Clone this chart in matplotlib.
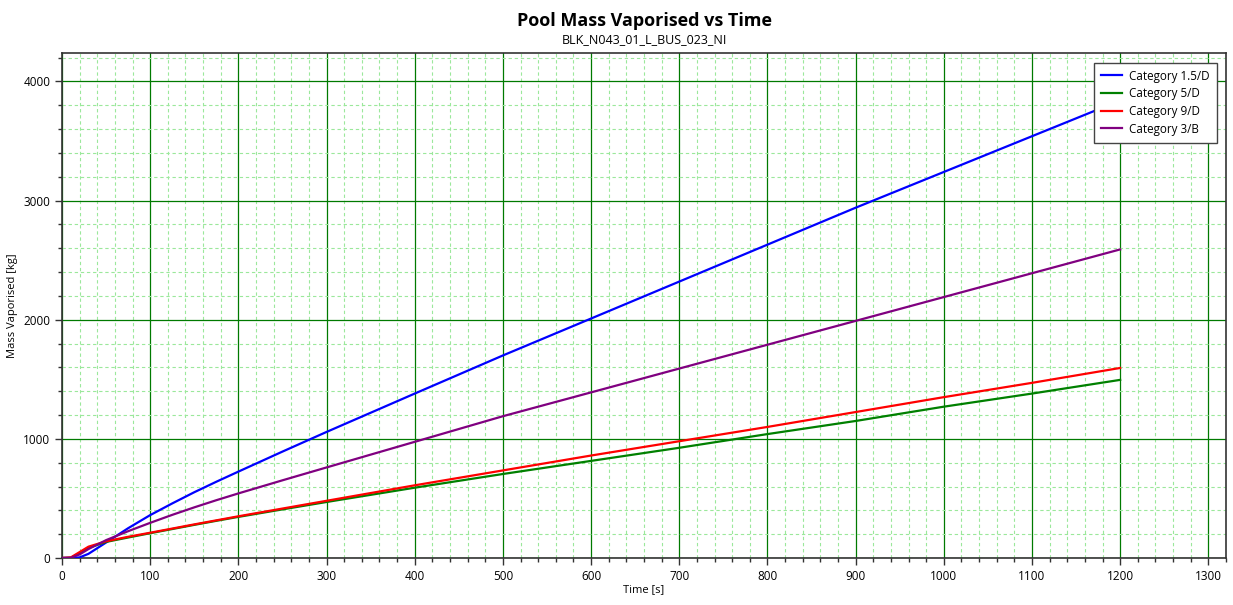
import numpy as np
import matplotlib.pyplot as plt
from matplotlib.ticker import MultipleLocator

# values
time_s = [0, 10, 20, 30, 50, 75, 100, 125, 150, 175, 200, 250, 300, 400, 500, 600, 700, 800, 900, 1000, 1100, 1200]
cat_15D = [0, 0, 5, 35, 130, 250, 360, 458, 552, 640, 725, 893, 1058, 1380, 1700, 2010, 2320, 2630, 2940, 3240, 3540, 3840]
cat_5D = [0, 2, 40, 85, 135, 172, 208, 243, 278, 312, 345, 408, 470, 590, 705, 815, 925, 1040, 1150, 1270, 1380, 1495]
cat_9D = [0, 5, 50, 95, 140, 178, 212, 247, 282, 316, 350, 415, 480, 610, 735, 860, 980, 1100, 1225, 1350, 1470, 1595]
cat_3B = [0, 2, 30, 75, 150, 225, 295, 362, 425, 485, 542, 652, 760, 975, 1190, 1390, 1590, 1790, 1990, 2190, 2390, 2590]

series = [
    ("Category 1.5/D", cat_15D, "#0000ff"),
    ("Category 5/D", cat_5D, "#008000"),
    ("Category 9/D", cat_9D, "#ff0000"),
    ("Category 3/B", cat_3B, "#800080"),
]

plt.rcParams['font.family'] = ['Open Sans', 'DejaVu Sans']

fig = plt.figure(figsize=(12.33, 6.05), dpi=100)
ax = fig.add_axes([0.0503, 0.0777, 0.944, 0.834])

for name, vals, col in series:
    ax.plot(time_s, vals, color=col, lw=1.6, label=name, zorder=3)

ax.set_xlim(0, 1320)
ax.set_ylim(0, 4235)
ax.xaxis.set_major_locator(MultipleLocator(100))
ax.xaxis.set_minor_locator(MultipleLocator(20))
ax.yaxis.set_major_locator(MultipleLocator(1000))
ax.yaxis.set_minor_locator(MultipleLocator(200))

ax.grid(which='major', color='#007a00', lw=0.9, ls='-', zorder=1)
ax.grid(which='minor', color='#9be89b', lw=0.8, ls=(0, (3, 2.5)), zorder=0)
ax.tick_params(which='major', length=5, width=1, labelsize=8.5, color='#333333')
ax.tick_params(which='minor', length=3, width=1, color='#333333')
for s in ax.spines.values():
    s.set_color('#333333')
    s.set_linewidth(1.2)

ax.set_xlabel("Time [s]", fontsize=8, labelpad=1)
ax.set_ylabel("Mass Vaporised [kg]", fontsize=8, labelpad=4)

fig.text(0.523, 0.965, "Pool Mass Vaporised vs Time", ha='center', va='center',
         fontsize=13, fontweight='bold')
fig.text(0.523, 0.935, "BLK_N043_01_L_BUS_023_NI", ha='center', va='center', fontsize=9)

leg = ax.legend(loc='upper right', bbox_to_anchor=(0.992, 0.982), borderaxespad=0,
                fontsize=8.4, fancybox=False, framealpha=1, edgecolor='#444444',
                handlelength=1.8, handletextpad=0.6, borderpad=0.6, labelspacing=0.4)
leg.get_frame().set_linewidth(1.0)

fig.savefig("out.png", dpi=100)
